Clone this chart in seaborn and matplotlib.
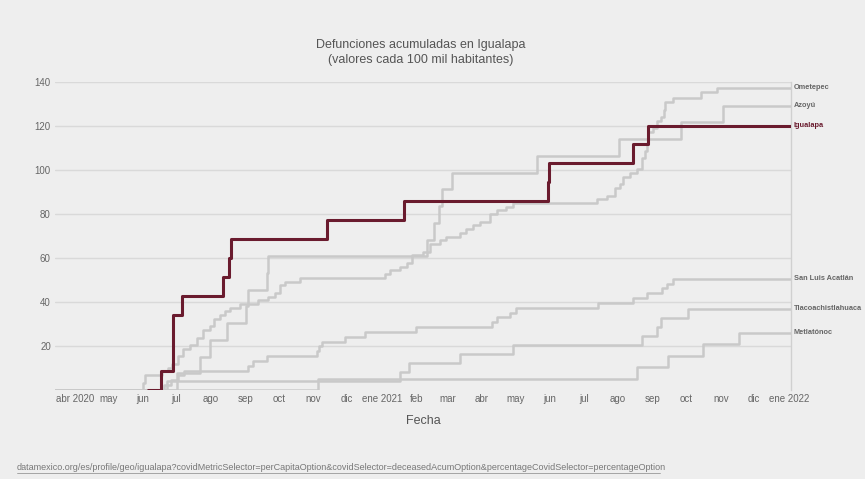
import pandas as pd
import matplotlib.pyplot as plt
import seaborn as sns

# Series data (cumulative deaths per 100k inhabitants)
igualapa_dates = ['2020-06-05', '2020-06-17', '2020-06-28', '2020-07-06', '2020-08-12',
                  '2020-08-17', '2020-08-19', '2020-11-13', '2021-01-21', '2021-05-30',
                  '2021-05-31', '2021-08-14', '2021-08-28', '2022-01-03']
igualapa_vals = [0, 8.6, 34.3, 42.9, 51.5, 60.0, 68.6, 77.2, 85.8, 94.4,
                 103.0, 111.6, 120.2, 120.2]

ometepec_dates = ['2020-03-14', '2020-06-01', '2020-06-03', '2020-06-18', '2020-06-23',
                  '2020-06-27', '2020-07-02', '2020-07-07', '2020-07-13', '2020-07-19',
                  '2020-07-25', '2020-07-31', '2020-08-04', '2020-08-09', '2020-08-13',
                  '2020-08-18', '2020-08-27', '2020-09-12', '2020-09-21', '2020-09-27',
                  '2020-10-02', '2020-10-06', '2020-10-20', '2021-01-04', '2021-01-08',
                  '2021-01-17', '2021-01-24', '2021-01-28', '2021-02-07', '2021-02-13',
                  '2021-02-22', '2021-02-28', '2021-03-12', '2021-03-18', '2021-03-24',
                  '2021-03-30', '2021-04-08', '2021-04-14', '2021-04-22', '2021-04-29',
                  '2021-07-13', '2021-07-22', '2021-07-29', '2021-08-03', '2021-08-05',
                  '2021-08-12', '2021-08-18', '2021-08-22', '2021-08-25', '2021-08-27',
                  '2021-08-28', '2021-09-01', '2021-09-05', '2021-09-08', '2021-09-11',
                  '2021-09-12', '2021-09-19', '2021-10-14', '2021-10-29', '2022-01-03']
ometepec_vals = [0, 3.4, 6.8, 8.5, 10.2,
                 11.9, 15.3, 18.7, 20.4, 23.8,
                 27.2, 28.9, 32.3, 34.0, 35.7,
                 37.4, 39.1, 40.8, 42.5, 44.2,
                 47.6, 49.3, 51.0, 52.7, 54.4,
                 56.1, 57.8, 61.2, 62.9, 66.3,
                 68.0, 69.7, 71.4, 73.1, 74.8,
                 76.5, 79.9, 81.6, 83.3, 85.0,
                 86.7, 88.4, 91.8, 93.5, 96.9,
                 98.6, 100.3, 105.4, 108.8, 112.2,
                 117.3, 119.0, 122.4, 124.1, 127.5,
                 130.9, 132.6, 135.4, 137.3, 137.3]

azoyu_dates = ['2020-03-14', '2020-07-01', '2020-07-22', '2020-07-31', '2020-08-15',
               '2020-09-01', '2020-09-03', '2020-09-20', '2020-09-21', '2021-02-11',
               '2021-02-17', '2021-02-21', '2021-02-24', '2021-03-05', '2021-05-20',
               '2021-08-02', '2021-09-26', '2021-11-03', '2022-01-03']
azoyu_vals = [0, 7.6, 15.2, 22.8, 30.4,
              38.0, 45.6, 53.2, 60.8, 68.4,
              76.0, 83.6, 91.2, 98.8, 106.4,
              114.0, 121.6, 129.2, 129.2]

sanluis_dates = ['2020-03-14', '2020-06-20', '2020-06-26', '2020-07-02', '2020-07-08',
                 '2020-09-03', '2020-09-08', '2020-09-20', '2020-11-04', '2020-11-06',
                 '2020-11-08', '2020-11-29', '2020-12-17', '2021-02-01', '2021-04-10',
                 '2021-04-14', '2021-04-26', '2021-05-01', '2021-07-14', '2021-08-14',
                 '2021-08-27', '2021-09-09', '2021-09-14', '2021-09-19', '2022-01-03']
sanluis_vals = [0, 2.2, 4.4, 6.6, 8.8,
                11.0, 13.2, 15.4, 17.6, 19.8,
                22.0, 24.2, 26.4, 28.6, 30.8,
                33.0, 35.2, 37.4, 39.6, 41.8,
                44.0, 46.2, 48.4, 50.6, 50.6]

tlaco_dates = ['2020-03-14', '2020-06-22', '2021-01-17', '2021-01-25', '2021-03-12',
               '2021-04-29', '2021-08-22', '2021-09-05', '2021-09-08', '2021-10-03',
               '2022-01-03']
tlaco_vals = [0, 4.1, 8.2, 12.3, 16.4, 20.5, 24.6, 28.7, 32.8, 36.9, 36.9]

metla_dates = ['2020-03-14', '2020-11-05', '2021-08-18', '2021-09-15', '2021-10-16',
               '2021-11-17', '2022-01-03']
metla_vals = [0, 5.2, 10.4, 15.6, 20.8, 26.0, 26.0]

month_ticks = pd.date_range('2020-04-01', '2022-01-01', freq='MS')
month_labels = ['abr 2020', 'may', 'jun', 'jul', 'ago', 'sep', 'oct', 'nov', 'dic',
                'ene 2021', 'feb', 'mar', 'abr', 'may', 'jun', 'jul', 'ago', 'sep',
                'oct', 'nov', 'dic', 'ene 2022']
y_ticks = [20, 40, 60, 80, 100, 120, 140]

series = {
    'Ometepec': (ometepec_dates, ometepec_vals),
    'Azoyú': (azoyu_dates, azoyu_vals),
    'San Luis Acatlán': (sanluis_dates, sanluis_vals),
    'Tlacoachistlahuaca': (tlaco_dates, tlaco_vals),
    'Metlatónoc': (metla_dates, metla_vals),
    'Igualapa': (igualapa_dates, igualapa_vals),
}

frames = []
for name, (d, v) in series.items():
    frames.append(pd.DataFrame({'Fecha': pd.to_datetime(d), 'valor': v, 'municipio': name}))
data = pd.concat(frames, ignore_index=True)

bg = '#eeeeee'
gray = '#c9c9c9'
wine = '#6a1b2e'
text_gray = '#666666'

sns.set_style('white')
plt.rcParams['font.family'] = ['Liberation Sans', 'DejaVu Sans']

fig = plt.figure(figsize=(8.65, 4.79), dpi=100)
fig.patch.set_facecolor(bg)
ax = fig.add_axes([55 / 865, 1 - 390 / 479, (791 - 55) / 865, 308 / 479])
ax.set_facecolor(bg)

palette = {n: gray for n in series}
grays = data[data['municipio'] != 'Igualapa']
sns.lineplot(data=grays, x='Fecha', y='valor', hue='municipio', palette=palette,
             estimator=None, sort=False, drawstyle='steps-post', linewidth=1.8,
             legend=False, ax=ax, zorder=2)
sns.lineplot(data=data[data['municipio'] == 'Igualapa'], x='Fecha', y='valor',
             color=wine, estimator=None, sort=False, drawstyle='steps-post',
             linewidth=2.2, legend=False, ax=ax, zorder=3)

ax.set_xlim(pd.Timestamp('2020-03-14'), pd.Timestamp('2022-01-03'))
ax.set_ylim(0, 140)
ax.set_yticks(y_ticks)
ax.set_yticklabels([str(t) for t in y_ticks])
ax.set_xticks(month_ticks)
ax.set_xticklabels(month_labels)
ax.tick_params(axis='both', length=0, labelsize=7, colors=text_gray, pad=3)
ax.grid(axis='y', color='#d9d9d9', linewidth=1.0)
ax.grid(axis='x', visible=False)
ax.set_axisbelow(True)
for side in ['top', 'left', 'bottom']:
    ax.spines[side].set_visible(False)
ax.spines['right'].set_color('#d0d0d0')
ax.spines['right'].set_linewidth(1.0)
ax.set_xlabel('Fecha', fontsize=9, color='#555555', labelpad=8)
ax.set_ylabel('')

# Labels at the end of each line
for name, (d, v) in series.items():
    col = wine if name == 'Igualapa' else text_gray
    ax.annotate(name, xy=(1.0, v[-1]), xycoords=('axes fraction', 'data'),
                xytext=(2, 0), textcoords='offset points', va='center', ha='left',
                fontsize=5.3, fontweight='bold', color=col, annotation_clip=False)

fig.text(421 / 865, 1 - 45 / 479, 'Defunciones acumuladas en Igualapa', ha='center',
         va='center', fontsize=9, color='#555555')
fig.text(421 / 865, 1 - 60 / 479, '(valores cada 100 mil habitantes)', ha='center',
         va='center', fontsize=9, color='#555555')

fig.text(17 / 865, 1 - 467 / 479,
         'datamexico.org/es/profile/geo/igualapa?covidMetricSelector=perCapitaOption'
         '&covidSelector=deceasedAcumOption&percentageCovidSelector=percentageOption',
         ha='left', va='center', fontsize=6.5, color='#777777')
fig.add_artist(plt.Line2D([17 / 865, 660 / 865], [1 - 472.5 / 479, 1 - 472.5 / 479],
                          color='#999999', linewidth=0.6))

fig.savefig('out.png', dpi=100, facecolor=bg)
